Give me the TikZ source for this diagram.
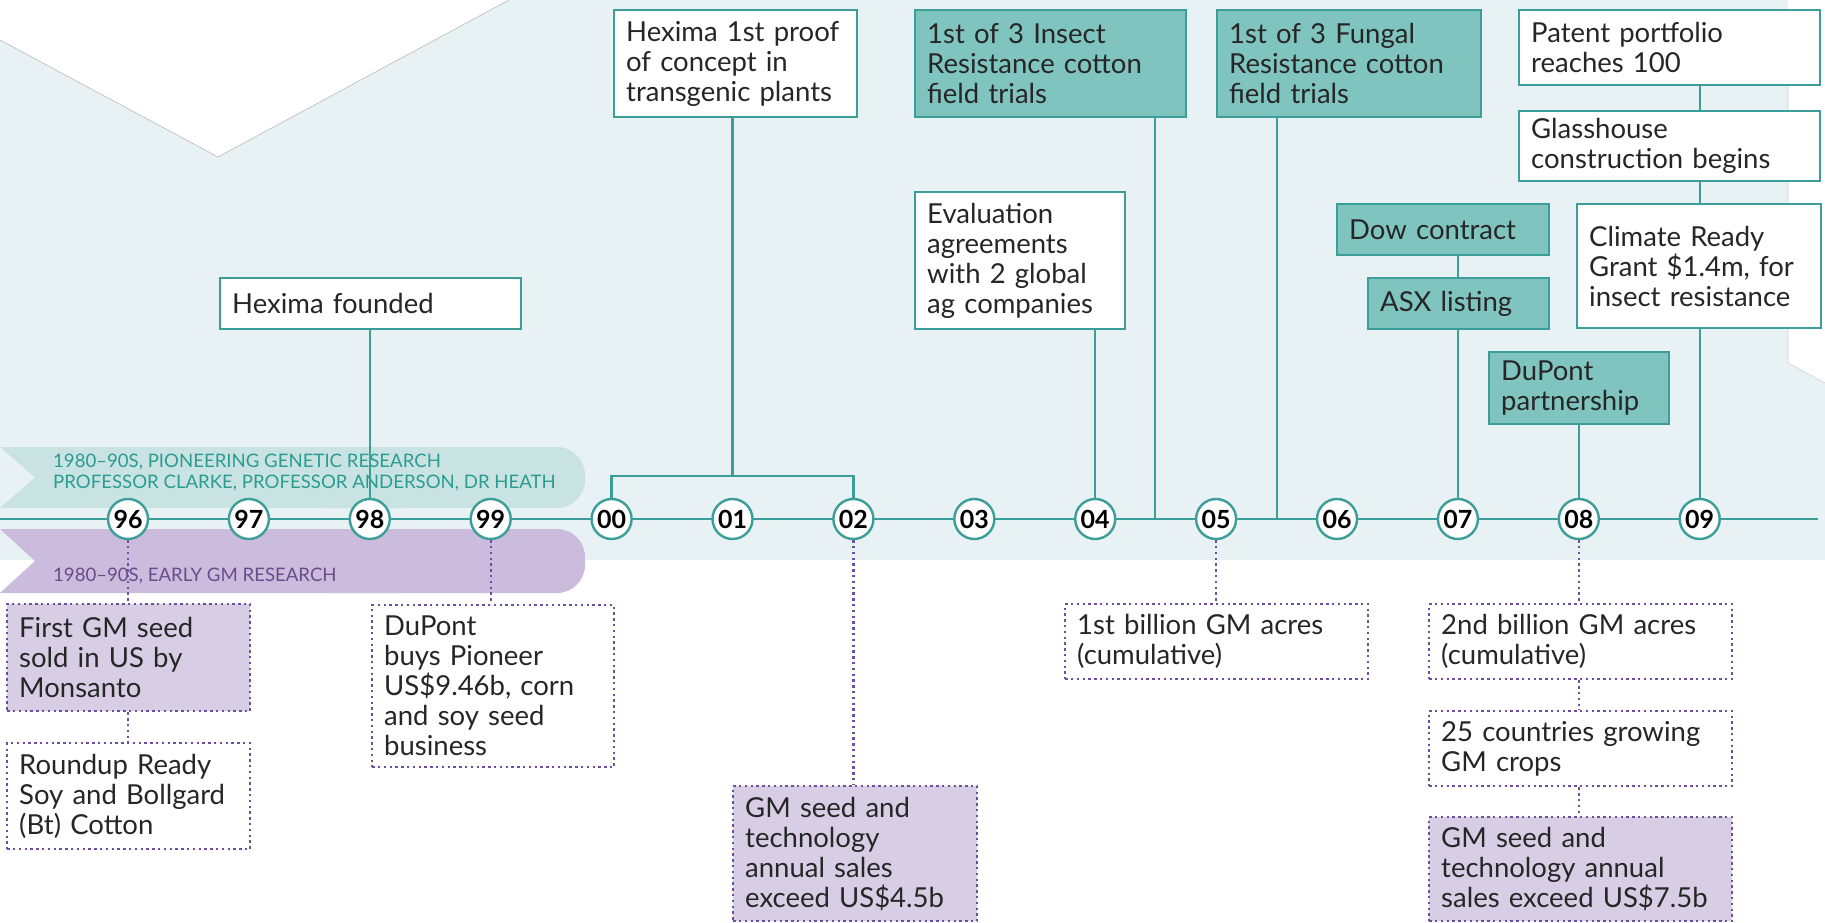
\documentclass[tikz,border=0pt]{standalone}
\usepackage{fontspec}
\setmainfont{Lato}
\usetikzlibrary{calc}
\definecolor{bgc}{HTML}{E8F1F3}
\definecolor{tealL}{HTML}{3C9E99}
\definecolor{tealF}{HTML}{80C4BF}
\definecolor{tealB}{HTML}{C9E3E2}
\definecolor{tealT}{HTML}{2A9C92}
\definecolor{purB}{HTML}{CBBBDC}
\definecolor{purT}{HTML}{6A4C8C}
\definecolor{purF}{HTML}{D7CEE5}
\definecolor{purL}{HTML}{6E4F9E}
\definecolor{txt}{HTML}{262626}
\newcommand{\boxfont}{\fontsize{27.5}{30}\selectfont}
\newcommand{\bandfont}{\fontsize{18.6}{20}\selectfont}
\newcommand{\yrfont}{\fontsize{25}{25}\selectfont\bfseries}
\begin{document}
\begin{tikzpicture}[x=1pt,y=-1pt,
  tline/.style={draw=tealL, line width=2.4pt},
  pline/.style={draw=purL, line width=2.4pt, dash pattern=on 2.4pt off 3.4pt},
  tbox/.style={draw=tealL, line width=2.4pt, fill=white, anchor=north west, inner xsep=12pt, inner ysep=3pt, align=left, font=\boxfont, text=txt},
  tfbox/.style={tbox, fill=tealF},
  pbox/.style={draw=purL, line width=2.4pt, dash pattern=on 2.4pt off 3.4pt, fill=white, anchor=north west, inner xsep=12pt, inner ysep=3pt, align=left, font=\boxfont, text=txt},
  pfbox/.style={pbox, fill=purF},
  yr/.style={circle, draw=tealL, line width=2.4pt, fill=white, minimum size=40pt, inner sep=0pt, font=\yrfont, text=black},
  bandtxt/.style={anchor=base west, inner sep=0pt, font=\bandfont}
]
\useasboundingbox (0,0) rectangle (1825,923);
% background
\fill[bgc] (0,0) rectangle (1825,560);
\fill[white] (0,0) -- (0,40) -- (218,157) -- (509,0) -- cycle;
\draw[gray!55, line width=0.6pt] (0,40) -- (218,157) -- (509,0);
\fill[white] (1788,0) -- (1825,0) -- (1825,383) -- (1788,363) -- cycle;
\draw[gray!35, line width=0.6pt] (1788,75) -- (1788,363) -- (1825,383);
% bands
\fill[tealB, rounded corners=28pt] (300,447) rectangle (585,508);
\fill[tealB] (0,447) -- (400,447) -- (400,508) -- (0,508) -- (35,477.5) -- cycle;
\fill[purB, rounded corners=28pt] (300,529) rectangle (585,593);
\fill[purB] (0,529) -- (400,529) -- (400,593) -- (0,593) -- (35,561) -- cycle;
\node[bandtxt, text=tealT] (bt1) at (53,467) {1980--90S, PIONEERING GENETIC RESEARCH};
\node[bandtxt, text=tealT] (bt2) at (53,488) {PROFESSOR CLARKE, PROFESSOR ANDERSON, DR HEATH};
\node[bandtxt, text=purT] (bp1) at (53,581) {1980--90S, EARLY GM RESEARCH};
% axis
\coordinate (axL) at (0,519);
\coordinate (axR) at (1818,519);
\draw[tline] (axL) -- (axR);
\foreach \lab [count=\i from 0] in {96,97,98,99,00,01,02,03,04,05,06,07,08,09}
  \node[yr] (c\lab) at ({128+120.9*\i},519) {\lab};
% top boxes
\node[tbox, minimum width=301pt, text width=277pt, minimum height=51pt] (t1) at (219,277) {Hexima founded};
\node[tbox, minimum width=243pt, text width=219pt, minimum height=107pt] (t2) at (613,9) {Hexima 1st proof\\of concept in\\transgenic plants};
\node[tfbox, minimum width=271pt, text width=247pt, minimum height=107pt] (t3) at (914,9) {1st of 3 Insect\\Resistance cotton\\field trials};
\node[tbox, minimum width=210pt, text width=186pt, minimum height=137pt] (t4) at (914,191) {Evaluation\\agreements\\with 2 global\\ag companies};
\node[tfbox, minimum width=264pt, text width=240pt, minimum height=107pt] (t5) at (1216,9) {1st of 3 Fungal\\Resistance cotton\\field trials};
\node[tbox, minimum width=301pt, text width=277pt, minimum height=75pt] (t6) at (1518,9) {Patent portfolio\\reaches 100};
\node[tbox, minimum width=301pt, text width=277pt, minimum height=70pt] (t7) at (1518,110) {Glasshouse\\construction begins};
\node[tbox, minimum width=244pt, text width=220pt, minimum height=124pt] (t8) at (1576,203) {Climate Ready\\Grant \$1.4m, for\\insect resistance};
\node[tfbox, minimum width=212pt, text width=188pt, minimum height=51pt] (t9) at (1336,203) {Dow contract};
\node[tfbox, minimum width=181pt, text width=157pt, minimum height=51pt] (t10) at (1367,277) {ASX listing};
\node[tfbox, minimum width=180pt, text width=156pt, minimum height=72pt] (t11) at (1488,351) {DuPont\\partnership};
% bottom boxes
\node[pfbox, minimum width=243pt, text width=219pt, minimum height=107pt] (b1) at (6,603) {First GM seed\\sold in US by\\Monsanto};
\node[pbox, minimum width=243pt, text width=219pt, minimum height=106pt] (b2) at (6,742) {Roundup Ready\\Soy and Bollgard\\(Bt) Cotton};
\node[pbox, minimum width=242pt, text width=218pt, minimum height=162pt] (b3) at (371,604) {DuPont\\buys Pioneer\\US\$9.46b, corn\\and soy seed\\business};
\node[pfbox, minimum width=244pt, text width=220pt, minimum height=135pt] (b4) at (732,785) {GM seed and\\technology\\annual sales\\exceed US\$4.5b};
\node[pbox, minimum width=303pt, text width=279pt, minimum height=75pt] (b5) at (1064,603) {1st billion GM acres\\(cumulative)};
\node[pbox, minimum width=303pt, text width=279pt, minimum height=75pt] (b6) at (1428,603) {2nd billion GM acres\\(cumulative)};
\node[pbox, minimum width=303pt, text width=279pt, minimum height=75pt] (b7) at (1428,710) {25 countries growing\\GM crops};
\node[pfbox, minimum width=303pt, text width=279pt, minimum height=104pt] (b8) at (1428,816) {GM seed and\\technology annual\\sales exceed US\$7.5b};
% top connectors
\coordinate (brk) at (c01 |- 0,476);
\coordinate (a3) at (1155,519);
\coordinate (a5) at (1277,519);
\draw[tline] (t1.south -| c98) -- (c98.north);
\draw[tline] (t2.south -| c01) -- (brk);
\draw[tline] (c00.north) |- (brk) -| (c02.north);
\draw[tline] (t3.south -| a3) -- (a3);
\draw[tline] (t4.south -| c04) -- (c04.north);
\draw[tline] (t5.south -| a5) -- (a5);
\draw[tline] (t6.south -| c09) -- (t7.north -| c09);
\draw[tline] (t7.south -| c09) -- (t8.north -| c09);
\draw[tline] (t8.south -| c09) -- (c09.north);
\draw[tline] (t9.south -| c07) -- (t10.north -| c07);
\draw[tline] (t10.south -| c07) -- (c07.north);
\draw[tline] (t11.south -| c08) -- (c08.north);
% bottom connectors
\draw[pline] (c96.south) -- (b1.north -| c96);
\draw[pline] (b1.south -| c96) -- (b2.north -| c96);
\draw[pline] (c99.south) -- (b3.north -| c99);
\draw[pline] (c02.south) -- (b4.north -| c02);
\draw[pline] (c05.south) -- (b5.north -| c05);
\draw[pline] (c08.south) -- (b6.north -| c08);
\draw[pline] (b6.south -| c08) -- (b7.north -| c08);
\draw[pline] (b7.south -| c08) -- (b8.north -| c08);
\end{tikzpicture}
\end{document}
